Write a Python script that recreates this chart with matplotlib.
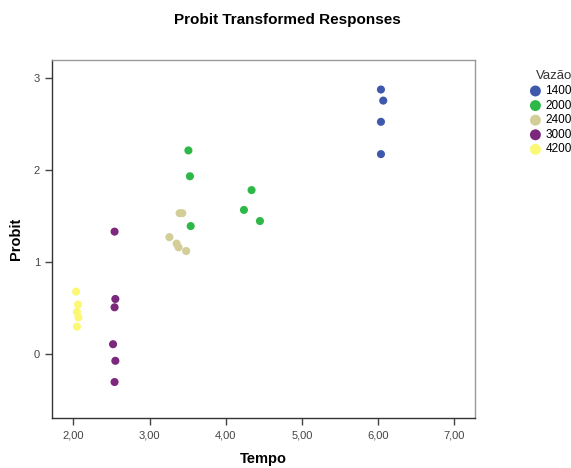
import matplotlib
matplotlib.use("Agg")
import matplotlib.pyplot as plt
from matplotlib.ticker import FuncFormatter

plt.rcParams["font.family"] = ["Liberation Sans", "DejaVu Sans"]

# ── data ──────────────────────────────────────────────────────────────────────
groups = ["1400", "2000", "2400", "3000", "4200"]
colors = ["#3E58AC", "#2EB848", "#D3CE97", "#7C287D", "#FBF873"]

tempo_1400 = [6.04, 6.07, 6.04, 6.04]
probit_1400 = [2.87, 2.75, 2.52, 2.17]

tempo_2000 = [3.51, 3.53, 4.34, 4.24, 4.45, 3.54]
probit_2000 = [2.21, 1.93, 1.78, 1.565, 1.445, 1.39]

tempo_2400 = [3.395, 3.43, 3.26, 3.355, 3.38, 3.48]
probit_2400 = [1.53, 1.53, 1.27, 1.20, 1.16, 1.12]

tempo_3000 = [2.54, 2.55, 2.54, 2.52, 2.55, 2.54]
probit_3000 = [1.33, 0.60, 0.51, 0.11, -0.07, -0.30]

tempo_4200 = [2.035, 2.06, 2.045, 2.065, 2.045]
probit_4200 = [0.68, 0.54, 0.46, 0.40, 0.30]

tempos = [tempo_1400, tempo_2000, tempo_2400, tempo_3000, tempo_4200]
probits = [probit_1400, probit_2000, probit_2400, probit_3000, probit_4200]

x_ticks = [2, 3, 4, 5, 6, 7]
y_ticks = [0, 1, 2, 3]

# ── plot ──────────────────────────────────────────────────────────────────────
fig = plt.figure(figsize=(5.71, 4.68), dpi=100)
ax = fig.add_axes([0.0919, 0.1068, 0.7400, 0.7650])

for name, col, xs, ys in zip(groups, colors, tempos, probits):
    ax.scatter(xs, ys, s=34, color=col, edgecolors="none", label=name, zorder=3)

ax.set_xlim(1.724, 7.276)
ax.set_ylim(-0.69, 3.19)
ax.set_xticks(x_ticks)
ax.set_yticks(y_ticks)
ax.xaxis.set_major_formatter(FuncFormatter(lambda v, p: f"{v:.2f}".replace(".", ",")))
ax.yaxis.set_major_formatter(FuncFormatter(lambda v, p: f"{v:.0f}"))
ax.tick_params(direction="out", length=5, width=1, color="#444444",
               labelsize=8, labelcolor="#444444", pad=4)

for side in ("left", "bottom"):
    ax.spines[side].set_color("#333333")
    ax.spines[side].set_linewidth(1.0)
for side in ("top", "right"):
    ax.spines[side].set_color("#999999")
    ax.spines[side].set_linewidth(1.0)

ax.set_xlabel("Tempo", fontsize=10.5, fontweight="bold", labelpad=8)
ax.set_ylabel("Probit", fontsize=10.5, fontweight="bold", labelpad=8)

fig.text(0.503, 0.958, "Probit Transformed Responses", ha="center", va="center",
         fontsize=11, fontweight="bold")

leg = ax.legend(title="Vazão", loc="upper left", bbox_to_anchor=(0.917, 0.862),
                bbox_transform=fig.transFigure, frameon=False, fontsize=8.5,
                title_fontsize=9.5, markerscale=1.35, handletextpad=0.35,
                labelspacing=0.22, borderpad=0, handlelength=1.0)
leg._legend_box.align = "right"
leg.get_title().set_color("#333333")

fig.savefig("out.png", dpi=100)
